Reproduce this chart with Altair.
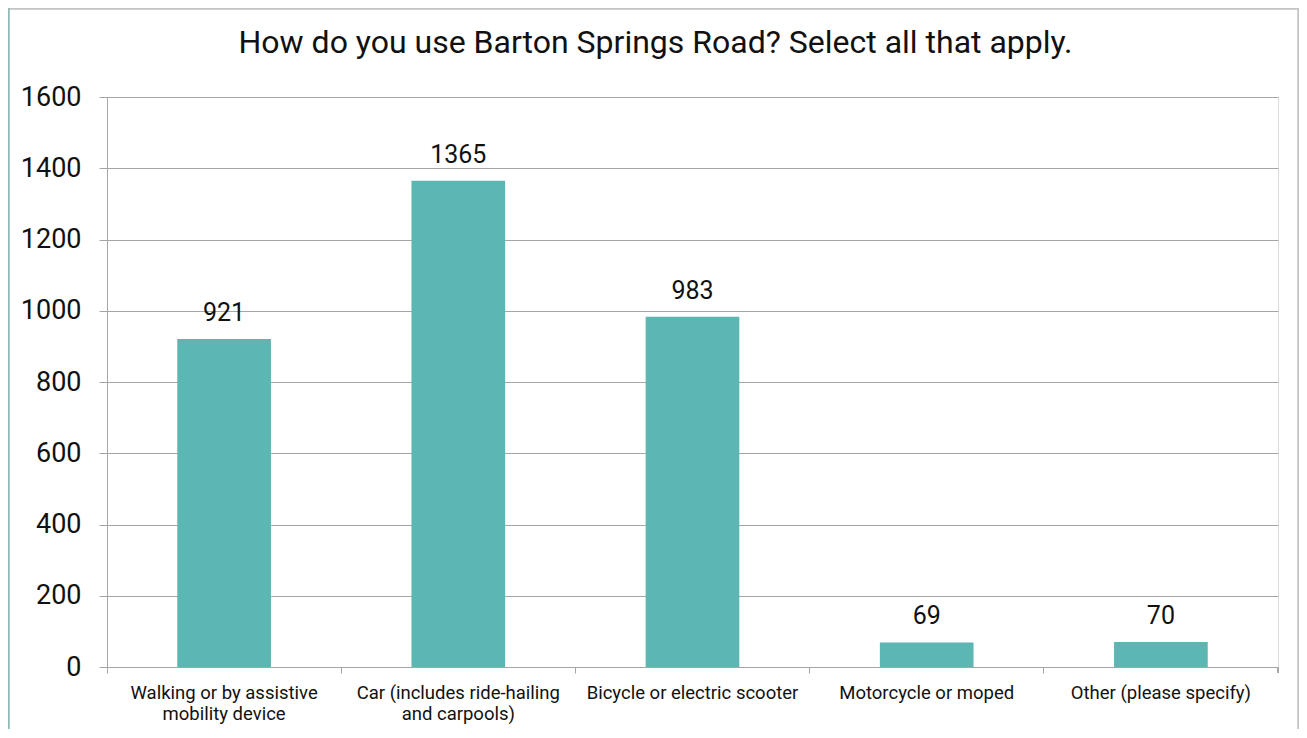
import altair as alt
import pandas as pd

categories = [
    "Walking or by assistive\nmobility device",
    "Car (includes ride-hailing\nand carpools)",
    "Bicycle or electric scooter",
    "Motorcycle or moped",
    "Other (please specify)",
]
counts = [921, 1365, 983, 69, 70]
y_ticks = [0, 200, 400, 600, 800, 1000, 1200, 1400, 1600]
title_text = "How do you use Barton Springs Road? Select all that apply."

df = pd.DataFrame({"category": categories, "count": counts})

W, H = 1171, 570
FONT = "Roboto"
BAR = "#5cb6b1"
GRID = "#a6a6a6"

x_enc = alt.X(
    "category:N",
    sort=categories,
    title=None,
    scale=alt.Scale(paddingInner=0, paddingOuter=0),
    axis=alt.Axis(
        labelAngle=0,
        labelExpr="split(datum.label, '\\n')",
        labelFont=FONT,
        labelFontSize=18.5,
        labelLineHeight=21,
        labelColor="#111111",
        labelPadding=10,
        labelBaseline="top",
        labelLimit=0,
        tickSize=6,
        tickColor=GRID,
        domainColor=GRID,
        bandPosition=0,
        grid=False,
    ),
)
y_enc = alt.Y(
    "count:Q",
    title=None,
    scale=alt.Scale(domain=[0, 1600], nice=False),
    axis=alt.Axis(
        values=y_ticks,
        format="d",
        labelFont=FONT,
        labelFontSize=27,
        labelColor="#111111",
        labelPadding=18,
        tickSize=8,
        tickColor=GRID,
        domainColor=GRID,
        gridColor=GRID,
        gridWidth=1,
    ),
)

base = alt.Chart(df)
bars = base.mark_bar(color=BAR, width=alt.RelativeBandSize(0.4)).encode(x=x_enc, y=y_enc)
labels = base.mark_text(
    font=FONT, fontSize=25, dy=-18, baseline="alphabetic", color="#111111"
).encode(
    x=alt.X("category:N", sort=categories),
    y=alt.Y("count:Q"),
    text=alt.Text("count:Q"),
)

# decorative frame and final axis tick
frame_top = alt.Chart(df).mark_rule(color="#c4c4c4", strokeWidth=1.5).encode(
    x=alt.value(-98.5), x2=alt.value(1191.5), y=alt.value(-88.5)
)
frame_left = alt.Chart(df).mark_rule(color="#8fbab5", strokeWidth=1.5).encode(
    x=alt.value(-98.5), y=alt.value(-88.5), y2=alt.value(700)
)
frame_right = alt.Chart(df).mark_rule(color="#c4c4c4", strokeWidth=1.5).encode(
    x=alt.value(1191.5), y=alt.value(-88.5), y2=alt.value(700)
)
end_tick = alt.Chart(df).mark_rule(color=GRID).encode(
    x=alt.value(W), y=alt.value(H), y2=alt.value(H + 6)
)

chart = (
    alt.layer(bars, labels, frame_top, frame_left, frame_right, end_tick)
    .properties(
        width=W,
        height=H,
        title=alt.TitleParams(
            title_text,
            font=FONT,
            fontSize=32,
            fontWeight="normal",
            color="#111111",
            anchor="middle",
            dx=-37,
            dy=64,
            offset=12,
        ),
        autosize=alt.AutoSizeParams(type="none"),
        padding={"left": 99, "top": 89, "right": 21, "bottom": 62},
    )
    .configure_view(stroke=None)
    .configure(background="white")
)

chart.save("out.html", embed_options={"renderer": "svg", "actions": False})
